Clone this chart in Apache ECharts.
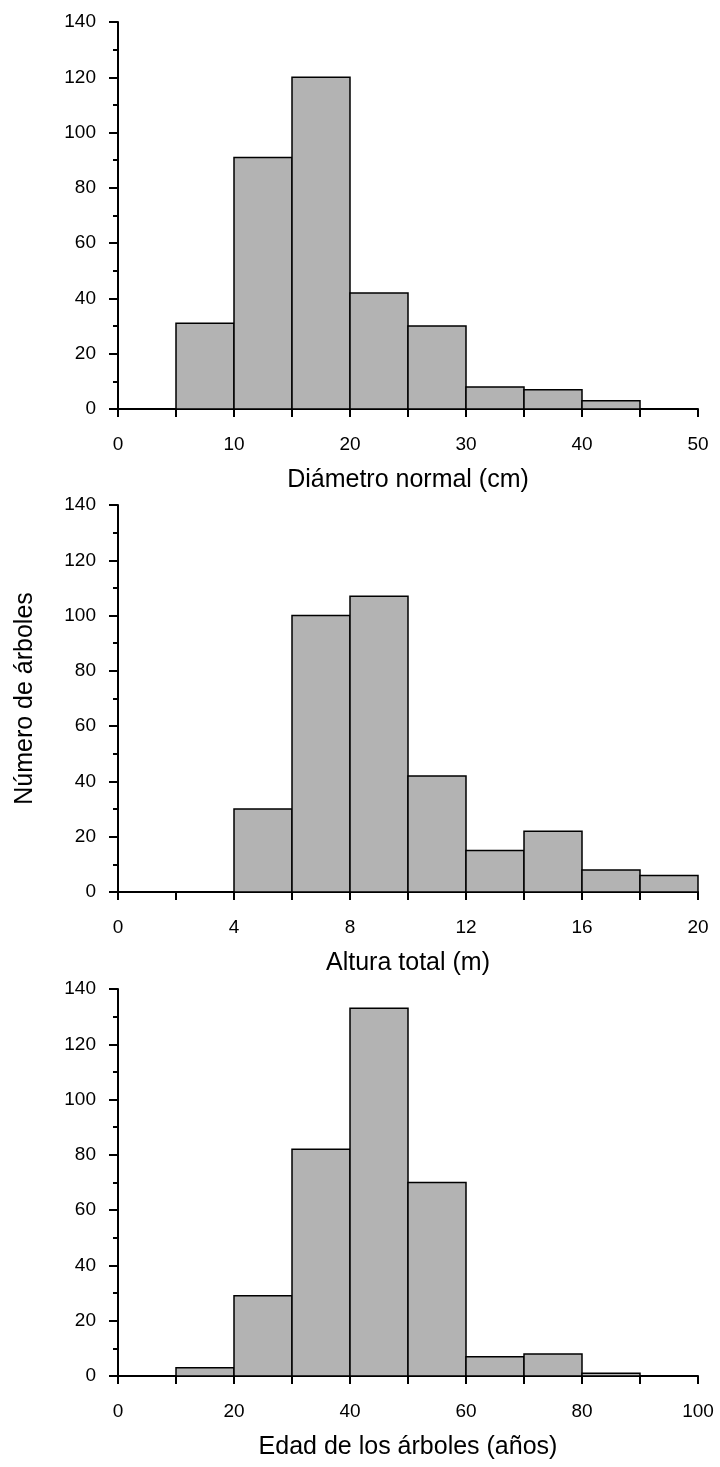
<!DOCTYPE html>
<html>
<head>
<meta charset="utf-8">
<script src="https://cdn.jsdelivr.net/npm/echarts@6/dist/echarts.min.js"></script>
<style>
html,body{margin:0;padding:0;background:#fff;}
#c{width:720px;height:1467px;}
</style>
</head>
<body>
<div id="c"></div>
<script>
// Panel 1: Diámetro normal (cm)
const binStart1 = [5, 10, 15, 20, 25, 30, 35, 40];
const binWidth1 = 5;
const counts1 = [31, 91, 120, 42, 30, 8, 7, 3];
const xLabels1 = [0, 10, 20, 30, 40, 50];
const xTitle1 = 'Diámetro normal (cm)';

// Panel 2: Altura total (m)
const binStart2 = [4, 6, 8, 10, 12, 14, 16, 18];
const binWidth2 = 2;
const counts2 = [30, 100, 107, 42, 15, 22, 8, 6];
const xLabels2 = [0, 4, 8, 12, 16, 20];
const xTitle2 = 'Altura total (m)';

// Panel 3: Edad de los árboles (años)
const binStart3 = [10, 20, 30, 40, 50, 60, 70, 80];
const binWidth3 = 10;
const counts3 = [3, 29, 82, 133, 70, 7, 8, 1];
const xLabels3 = [0, 20, 40, 60, 80, 100];
const xTitle3 = 'Edad de los árboles (años)';

const yLabels = [0, 20, 40, 60, 80, 100, 120, 140];
const yTitle = 'Número de árboles';

const FONT = '"Liberation Sans", Arial, sans-serif';
const panels = [
  {start: binStart1, w: binWidth1, counts: counts1, labels: xLabels1, title: xTitle1, max: 50, top: 22},
  {start: binStart2, w: binWidth2, counts: counts2, labels: xLabels2, title: xTitle2, max: 20, top: 505},
  {start: binStart3, w: binWidth3, counts: counts3, labels: xLabels3, title: xTitle3, max: 100, top: 989}
];

const grids = [], xAxes = [], yAxes = [], series = [];
panels.forEach((p, i) => {
  grids.push({left: 118, right: 22, top: p.top, height: 387});
  xAxes.push({
    type: 'value', gridIndex: i, min: 0, max: p.max, interval: p.w,
    splitLine: {show: false},
    axisLine: {show: true, onZero: false, lineStyle: {color: '#000', width: 2}},
    axisTick: {show: true, length: 8, lineStyle: {color: '#000', width: 2}},
    axisLabel: {
      color: '#000', fontSize: 19, fontFamily: FONT, margin: 26,
      formatter: (v) => p.labels.indexOf(v) >= 0 ? String(v) : ''
    },
    name: p.title, nameLocation: 'middle', nameGap: 59,
    nameTextStyle: {color: '#000', fontSize: 25, fontFamily: FONT}
  });
  yAxes.push({
    type: 'value', gridIndex: i, min: 0, max: 140, interval: 20,
    splitLine: {show: false},
    axisLine: {show: true, lineStyle: {color: '#000', width: 2}},
    axisTick: {show: true, length: 9, lineStyle: {color: '#000', width: 2}},
    minorTick: {show: true, splitNumber: 2, length: 5, lineStyle: {color: '#000', width: 2}},
    axisLabel: {color: '#000', fontSize: 19, fontFamily: FONT, margin: 22,
      formatter: (v) => yLabels.indexOf(v) >= 0 ? String(v) : ''},
    name: i === 1 ? yTitle : '', nameLocation: 'middle', nameGap: 80, nameRotate: 90,
    nameTextStyle: {color: '#000', fontSize: 25, fontFamily: FONT}
  });
  series.push({
    type: 'custom', xAxisIndex: i, yAxisIndex: i,
    data: p.start.map((s, k) => [s, s + p.w, p.counts[k]]),
    encode: {x: [0, 1], y: 2},
    renderItem: function (params, api) {
      const a = api.coord([api.value(0), api.value(2)]);
      const b = api.coord([api.value(1), 0]);
      return {
        type: 'rect',
        shape: {x: a[0], y: a[1], width: b[0] - a[0], height: b[1] - a[1]},
        style: {fill: '#b3b3b3', stroke: '#000', lineWidth: 1.5}
      };
    },
    z: 1
  });
});

const chart = echarts.init(document.getElementById('c'), null, {renderer: 'canvas'});
chart.setOption({
  animation: false,
  backgroundColor: '#fff',
  grid: grids, xAxis: xAxes, yAxis: yAxes, series: series
});
</script>
</body>
</html>
